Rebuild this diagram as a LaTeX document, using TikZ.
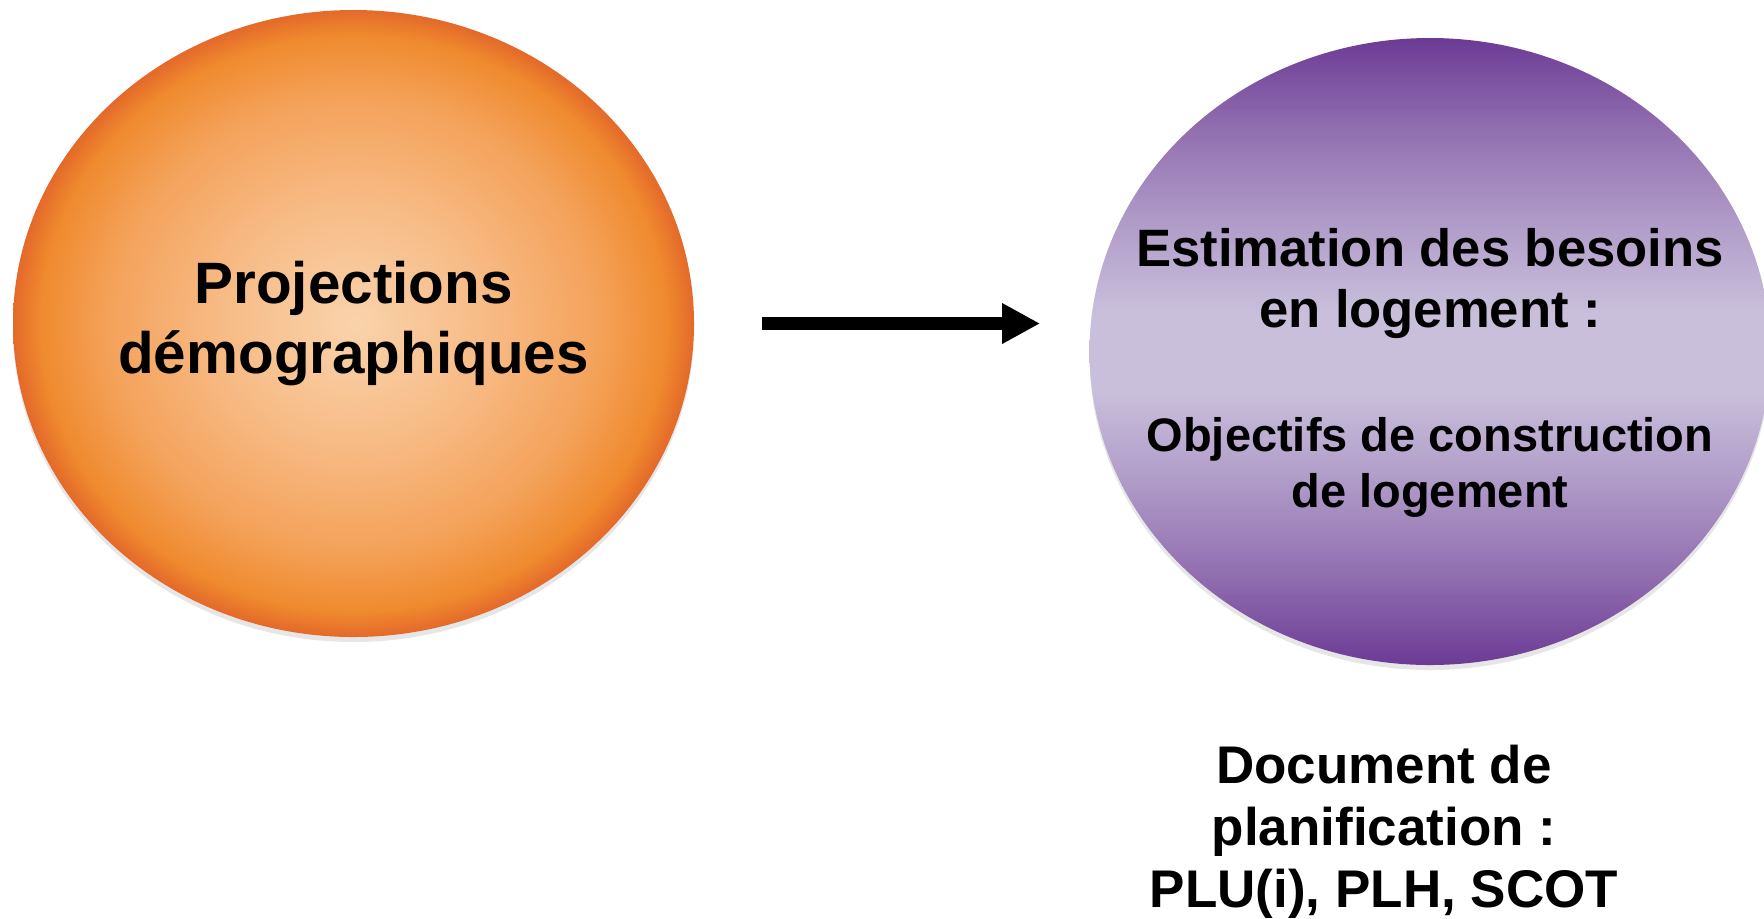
\documentclass[tikz,border=0pt]{standalone}
\usepackage{fontspec}
\setmainfont{Liberation Sans}
\usepackage{xcolor}
\usetikzlibrary{shapes.geometric}
\usetikzlibrary{arrows.meta}
\usetikzlibrary{shadows}

\definecolor{orCenter}{HTML}{F9D3AC}
\definecolor{orLight}{HTML}{F7BA84}
\definecolor{orMid}{HTML}{F4A25A}
\definecolor{orOuter}{HTML}{EF8A2E}
\definecolor{orEdge}{HTML}{E4692A}
\definecolor{puDark}{HTML}{6C3B95}
\definecolor{puMid}{HTML}{906DAF}
\definecolor{puSoft}{HTML}{B19DC9}
\definecolor{puLight}{HTML}{C9BFDB}

\pgfdeclareradialshading{orangeglow}{\pgfpoint{0bp}{0bp}}{color(0bp)=(orCenter); color(10bp)=(orLight); color(18bp)=(orMid); color(23bp)=(orOuter); color(25bp)=(orEdge); color(50bp)=(orEdge)}
\pgfdeclareverticalshading{purplefade}{100bp}{color(0bp)=(puDark); color(25bp)=(puDark); color(32bp)=(puMid); color(40bp)=(puSoft); color(47bp)=(puLight); color(53bp)=(puLight); color(60bp)=(puSoft); color(68bp)=(puMid); color(75bp)=(puDark); color(100bp)=(puDark)}

\begin{document}
\begin{tikzpicture}[x=0.5pt,y=-0.5pt,
  ball/.style={ellipse, minimum width=340.5pt, minimum height=313.5pt, inner sep=0pt,
    drop shadow={shadow xshift=0pt, shadow yshift=-2.5pt, opacity=0.2}},
  orangeball/.style={ball, shading=orangeglow, align=center, font=\fontsize{29.2}{35}\selectfont\bfseries},
  purpleball/.style={ball, shading=purplefade},
  bigtext/.style={align=center, inner sep=0pt, font=\fontsize{26.3}{30.5}\selectfont\bfseries},
  smalltext/.style={align=center, inner sep=0pt, font=\fontsize{23.5}{28}\selectfont\bfseries},
  doctext/.style={align=center, inner sep=0pt, font=\fontsize{26.5}{31}\selectfont\bfseries},
  fatarrow/.style={line width=6.5pt, -{Triangle[length=19pt, width=19pt]}}]
\useasboundingbox (0,0) rectangle (1764,918);
\node[orangeball] (proj) at (353.5,323.5) {Projections\\démographiques};
\node[purpleball] (besoins) at (1430,351.5) {};
\node[bigtext] (estim) at (1430,284) {Estimation des besoins\\en logement :};
\node[smalltext] (objectifs) at (1430,467) {Objectifs de construction\\de logement};
\node[doctext] (doc) at (1384,832) {Document de\\planification :\\PLU(i), PLH, SCOT};
\draw[fatarrow] ([xshift=34pt]proj.east) -- ([xshift=-24.5pt]proj.east -| besoins.west);
\end{tikzpicture}
\end{document}
